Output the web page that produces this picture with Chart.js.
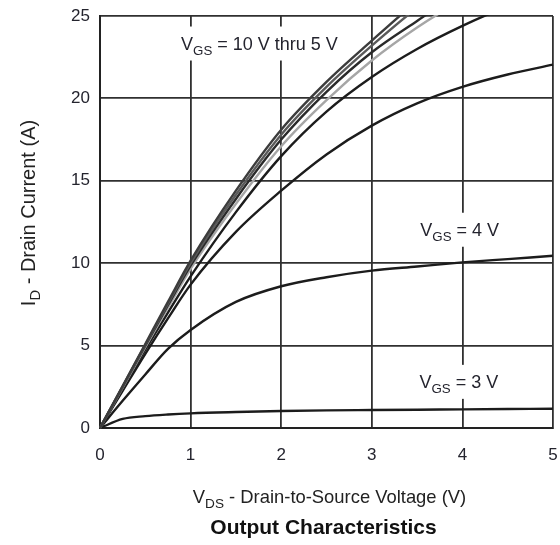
<!DOCTYPE html>
<html>
<head>
<meta charset="utf-8">
<script src="https://cdn.jsdelivr.net/npm/chart.js@4/dist/chart.umd.min.js"></script>
<style>
  html, body { margin: 0; padding: 0; background: #fff; }
  canvas { display: block; }
</style>
</head>
<body>
<canvas id="chart" width="560" height="545"></canvas>
<script>
// Drain-to-source voltage sample points (V)
const vds = [0, 0.25, 0.5, 0.75, 1, 1.5, 2, 2.5, 3, 3.5, 4, 4.5, 5];

// Drain current (A) for each gate-to-source voltage
const id10V = [0, 2.55, 5.1, 7.65, 10.15, 14.4, 18.1, 21.0, 23.5, 25.9, 28.0, 29.8, 31.3];
const id9V  = [0, 2.52, 5.05, 7.55, 10.0, 14.15, 17.8, 20.7, 23.2, 25.5, 27.5, 29.2, 30.6];
const id8V  = [0, 2.5, 5.0, 7.45, 9.85, 13.9, 17.5, 20.4, 22.8, 24.7, 26.5, 28.0, 29.3];
const id7V  = [0, 2.45, 4.9, 7.3, 9.65, 13.6, 17.1, 19.9, 22.3, 24.3, 26.0, 27.5, 28.8];
const id6V  = [0, 2.4, 4.75, 7.0, 9.2, 13.1, 16.5, 19.2, 21.3, 23.0, 24.4, 25.6, 26.6];
const id5V  = [0, 2.25, 4.5, 6.65, 8.7, 11.9, 14.4, 16.6, 18.35, 19.7, 20.7, 21.45, 22.05];
const id4V  = [0, 1.65, 3.25, 4.8, 5.95, 7.65, 8.6, 9.15, 9.55, 9.8, 10.05, 10.25, 10.45];
const id3V  = [0, 0.55, 0.72, 0.82, 0.89, 0.97, 1.03, 1.07, 1.09, 1.11, 1.13, 1.15, 1.17];

// Axis ranges and tick steps
const xTicks = [0, 1, 2, 3, 4, 5];
const yTicks = [0, 5, 10, 15, 20, 25];

// Curve annotations (data coordinates); each part may be a subscript
const notes = [
  { x: 1.76, y: 23.33, parts: [['V'], ['GS', true], [' = 10 V thru 5 V']] },
  { x: 3.97, y: 12.03, parts: [['V'], ['GS', true], [' = 4 V']] },
  { x: 3.96, y: 2.8,  parts: [['V'], ['GS', true], [' = 3 V']] }
];

const xTitle = [['V'], ['DS', true], [' - Drain-to-Source Voltage (V)']];
const yTitle = [['I'], ['D', true], [' - Drain Current (A)']];
const caption = 'Output Characteristics';

const FAMILY = '"Liberation Sans", Arial, Helvetica, sans-serif';

function toPoints(ys) {
  return vds.map((v, i) => ({ x: v, y: ys[i] }));
}

function curve(label, ys, color, width) {
  return {
    label,
    data: toPoints(ys),
    borderColor: color,
    borderWidth: width,
    pointRadius: 0,
    fill: false,
    cubicInterpolationMode: 'monotone',
    clip: 1
  };
}

// Measure and draw text made of normal and subscript runs, centred at (cx, baseline)
function richWidth(ctx, parts, size, weight) {
  let w = 0;
  for (const [t, sub] of parts) {
    ctx.font = `${weight} ${sub ? size * 0.74 : size}px ${FAMILY}`;
    w += ctx.measureText(t).width;
  }
  return w;
}
function drawRich(ctx, parts, cx, baseline, size, weight, color) {
  const w = richWidth(ctx, parts, size, weight);
  let x = cx - w / 2;
  ctx.fillStyle = color;
  ctx.textAlign = 'left';
  ctx.textBaseline = 'alphabetic';
  for (const [t, sub] of parts) {
    const s = sub ? size * 0.74 : size;
    ctx.font = `${weight} ${s}px ${FAMILY}`;
    ctx.fillText(t, x, baseline + (sub ? size * 0.27 : 0));
    x += ctx.measureText(t).width;
  }
  return w;
}

const notesPlugin = {
  id: 'curveNotes',
  beforeDatasetsDraw(chart) {
    const { ctx, scales } = chart;
    ctx.save();
    for (const n of notes) {
      const cx = scales.x.getPixelForValue(n.x);
      const cy = scales.y.getPixelForValue(n.y);
      const size = 18;
      const w = richWidth(ctx, n.parts, size, 'normal');
      ctx.fillStyle = '#fff';
      ctx.fillRect(cx - w / 2 - 5, cy - 17, w + 10, 34);
      drawRich(ctx, n.parts, cx, cy + size * 0.36, size, 'normal', '#24242e');
    }
    ctx.restore();
  }
};

const titlesPlugin = {
  id: 'axisTitles',
  afterDraw(chart) {
    const { ctx, chartArea } = chart;
    const midX = (chartArea.left + chartArea.right) / 2;
    const midY = (chartArea.top + chartArea.bottom) / 2;
    ctx.save();
    drawRich(ctx, xTitle, midX + 3, chartArea.bottom + 75, 18.4, 'normal', '#222');
    drawRich(ctx, [[caption]], midX - 3, chartArea.bottom + 106, 21, 'bold', '#111');
    ctx.translate(chartArea.left - 72, midY - 9);
    ctx.rotate(-Math.PI / 2);
    drawRich(ctx, yTitle, 0, 7, 20, 'normal', '#222');
    ctx.restore();
  }
};

new Chart(document.getElementById('chart'), {
  type: 'line',
  data: {
    datasets: [
      curve('VGS = 10 V', id10V, '#3c3c3c', 2.4),
      curve('VGS = 9 V', id9V, '#5a5a5a', 2.4),
      curve('VGS = 8 V', id8V, '#2a2a2a', 2.4),
      curve('VGS = 7 V', id7V, '#a6a6a6', 2.4),
      curve('VGS = 6 V', id6V, '#1c1c1c', 2.4),
      curve('VGS = 5 V', id5V, '#1c1c1c', 2.4),
      curve('VGS = 4 V', id4V, '#1c1c1c', 2.4),
      curve('VGS = 3 V', id3V, '#1c1c1c', 2.4)
    ]
  },
  options: {
    responsive: false,
    animation: false,
    devicePixelRatio: 1,
    layout: { padding: { top: 16, right: 7, left: 0, bottom: 0 } },
    plugins: { legend: { display: false }, tooltip: { enabled: false } },
    scales: {
      x: {
        type: 'linear',
        min: xTicks[0],
        max: xTicks[xTicks.length - 1],
        afterBuildTicks: s => { s.ticks = xTicks.map(v => ({ value: v })); },
        afterFit: s => { s.height = 117; s.paddingLeft = 0; s.paddingRight = 0; },
        grid: { color: '#303030', lineWidth: 1.8, drawTicks: false },
        border: { display: true, color: '#222', width: 2 },
        ticks: {
          padding: 17,
          color: '#24242e',
          font: { family: FAMILY, size: 17 }
        }
      },
      y: {
        type: 'linear',
        min: yTicks[0],
        max: yTicks[yTicks.length - 1],
        afterBuildTicks: s => { s.ticks = yTicks.map(v => ({ value: v })); },
        afterFit: s => { s.width = 100; s.paddingTop = 0; s.paddingBottom = 0; },
        grid: { color: '#303030', lineWidth: 1.8, drawTicks: false },
        border: { display: true, color: '#222', width: 2 },
        ticks: {
          padding: 10,
          color: '#24242e',
          font: { family: FAMILY, size: 17 }
        }
      }
    }
  },
  plugins: [notesPlugin, titlesPlugin]
});
</script>
</body>
</html>
